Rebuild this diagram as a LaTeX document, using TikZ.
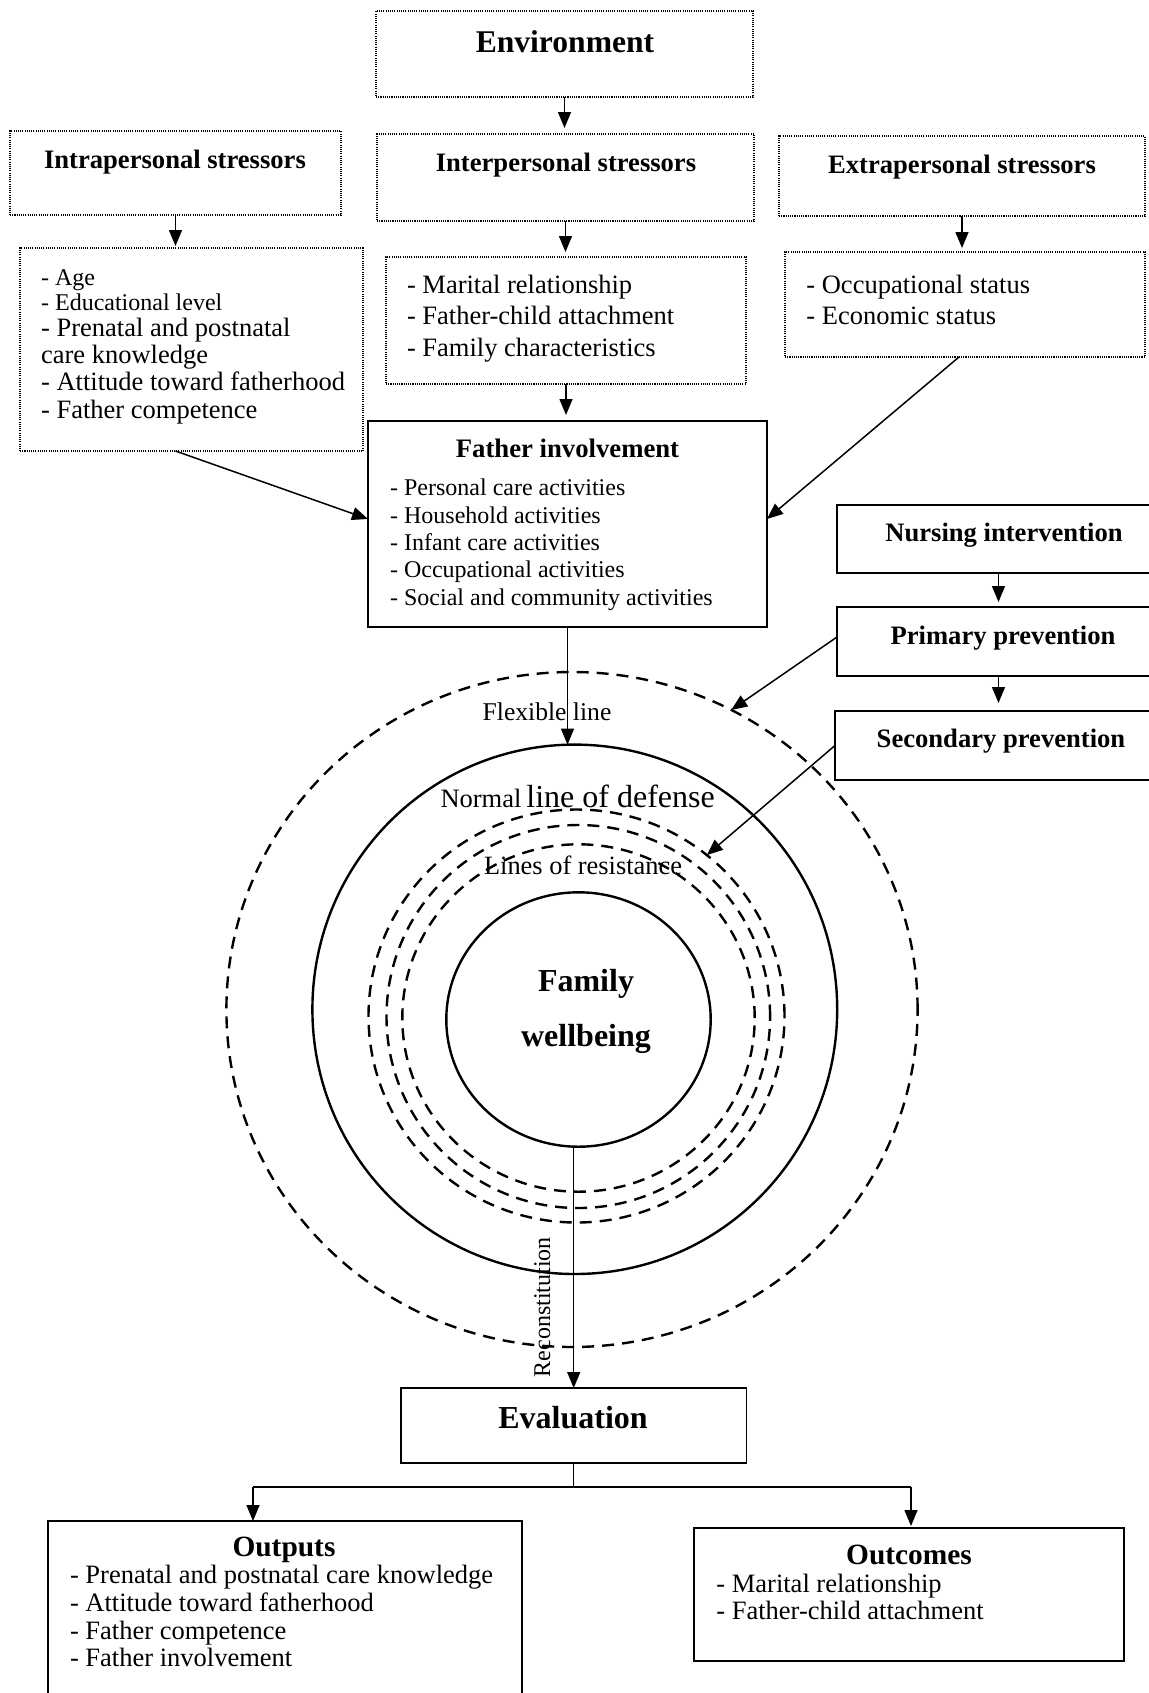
\documentclass[tikz,border=0pt]{standalone}
\usepackage{fontspec}
\setmainfont{Liberation Serif}
\usetikzlibrary{arrows.meta,shapes.geometric,calc}
\newcommand\setfs[1]{\fontsize{#1}{#1}\selectfont}

\begin{document}
\begin{tikzpicture}[x=0.5pt,y=-0.5pt,
  box/.style={draw, line width=0.95pt, inner sep=0pt, outer sep=0pt},
  dotbox/.style={draw, line width=0.55pt, dash pattern=on 0.55pt off 0.55pt, inner sep=0pt, outer sep=0pt},
  ring/.style={draw, ellipse, line width=1.2pt, inner sep=0pt, outer sep=0pt},
  dring/.style={ring, dash pattern=on 6pt off 4pt},
  arr/.style={line width=0.75pt, -{Triangle[length=8pt,width=6.5pt]}},
  conn/.style={line width=0.75pt},
  txt/.style={inner sep=0pt, anchor=base},
  ltxt/.style={inner sep=0pt, anchor=base west},
  head/.style={txt, font=\bfseries\setfs{13.3}},
  item/.style={ltxt, font=\setfs{13.25}},
  smallitem/.style={ltxt, font=\setfs{12}}
]
\useasboundingbox (0,0) rectangle (1149,1693);
\fill[white] (0,0) rectangle (1149,1693);

% ---- boxes ----
\node[dotbox, minimum width=188.5pt, minimum height=43pt] (env) at (564.5,54) {};
\node[dotbox, minimum width=165.5pt, minimum height=42pt] (intra) at (175.5,173) {};
\node[dotbox, minimum width=188.5pt, minimum height=43.5pt] (inter) at (565.5,177.5) {};
\node[dotbox, minimum width=183pt, minimum height=40pt] (extra) at (962,176) {};
\node[dotbox, minimum width=171.5pt, minimum height=101.5pt] (intraL) at (191.5,349.5) {};
\node[dotbox, minimum width=180pt, minimum height=63.5pt] (interL) at (566,320.5) {};
\node[dotbox, minimum width=180pt, minimum height=52.5pt] (extraL) at (965,304.5) {};
\node[box, minimum width=199.5pt, minimum height=103pt] (FI) at (567.5,524) {};
\node[box, minimum width=161.5pt, minimum height=34pt] (nurse) at (998.5,539) {};
\node[box, minimum width=161.5pt, minimum height=34.5pt] (primary) at (998.5,641.5) {};
\node[box, minimum width=162.5pt, minimum height=34.5pt] (secondary) at (997.5,745.5) {};
\node[box, minimum width=172.75pt, minimum height=37.5pt] (eval) at (573.7,1425.5) {};
\node[box, minimum width=236.8pt, minimum height=89.5pt] (outputs) at (284.8,1610.5) {};
\node[box, minimum width=214.75pt, minimum height=66.5pt] (outcomes) at (909,1594.5) {};

% ---- defence rings ----
\node[dring, minimum width=345.6pt, minimum height=337.5pt] (outer) at (572,1009.5) {};
\node[ring, minimum width=262.4pt, minimum height=264.7pt] (normal) at (574.8,1009.3) {};
\node[dring, minimum width=208pt, minimum height=206.5pt] (res1) at (576.5,1016) {};
\node[dring, minimum width=191.8pt, minimum height=191.5pt] (res2) at (578.3,1016.5) {};
\node[dring, minimum width=176.2pt, minimum height=173.7pt] (res3) at (578.5,1018) {};
\node[ring, minimum width=132.2pt, minimum height=127.2pt] (family) at (578.5,1019.5) {};

% ---- texts ----
\node[txt, font=\bfseries\setfs{15.8}] (envT) at (565,52) {Environment};
\node[head] (intraT) at (175,168) {Intrapersonal stressors};
\node[head] (interT) at (566,171) {Interpersonal stressors};
\node[head] (extraT) at (962,173) {Extrapersonal stressors};

\node[smallitem] (i1) at (40.7,285) {- Age};
\node[smallitem] (i2) at (40.7,310) {- Educational level};
\node[item] (i3) at (40.7,336) {- Prenatal and postnatal};
\node[item] (i4) at (40.7,363) {care knowledge};
\node[item] (i5) at (40.7,390) {- Attitude toward fatherhood};
\node[item] (i6) at (40.7,418) {- Father competence};

\node[item] (p1) at (406.6,293) {- Marital relationship};
\node[item] (p2) at (406.6,324.5) {- Father-child attachment};
\node[item] (p3) at (406.6,356) {- Family characteristics};

\node[item] (e1) at (806,293) {- Occupational status};
\node[item] (e2) at (806,324) {- Economic status};

\node[txt, font=\bfseries\setfs{13.35}] (FIT) at (567.5,457) {Father involvement};
\node[smallitem] (f1) at (389.7,495) {- Personal care activities};
\node[smallitem] (f2) at (389.7,523) {- Household activities};
\node[smallitem] (f3) at (389.7,550) {- Infant care activities};
\node[smallitem] (f4) at (389.7,577.7) {- Occupational activities};
\node[smallitem] (f5) at (389.7,605) {- Social and community activities};

\node[head] (nurseT) at (1004,541) {Nursing intervention};
\node[head] (primaryT) at (1003,644) {Primary prevention};
\node[head] (secondaryT) at (1001,747) {Secondary prevention};

\node[txt, font=\setfs{12.8}] (flexT) at (547,720) {Flexible line};
\node[ltxt] (normalT) at (440.1,807) {{\setfs{13.25}Normal} {\setfs{16}line of defense}};
\node[txt, font=\setfs{13.2}] (resT) at (583,874) {Lines of resistance};
\node[txt, font=\bfseries\setfs{16}] (famT1) at (586,991.5) {Family};
\node[txt, font=\bfseries\setfs{16}] (famT2) at (586,1046) {wellbeing};
\node[txt, font=\setfs{12}, rotate=90] (reconT) at (550,1307) {Reconstitution};

\node[txt, font=\bfseries\setfs{16}] (evalT) at (573,1428) {Evaluation};
\node[txt, font=\bfseries\setfs{14.7}] (outputsT) at (284,1556) {Outputs};
\node[item] (o1) at (69.6,1583) {- Prenatal and postnatal care knowledge};
\node[item] (o2) at (69.6,1611.7) {- Attitude toward fatherhood};
\node[item] (o3) at (69.6,1639) {- Father competence};
\node[item] (o4) at (69.6,1666.7) {- Father involvement};
\node[txt, font=\bfseries\setfs{14.7}] (outcomesT) at (909,1564) {Outcomes};
\node[item] (c1) at (716,1592) {- Marital relationship};
\node[item] (c2) at (716,1619) {- Father-child attachment};

% ---- connectors ----
\draw[arr, shorten >=3pt] (env.south) -- (env.south |- inter.north);
\draw[arr, shorten >=1pt] (intra.south) -- (intra.south |- intraL.north);
\draw[arr, shorten >=2.5pt] (inter.south) -- (inter.south |- interL.north);
\draw[arr, shorten >=2pt] (extra.south) -- (extra.south |- extraL.north);
\draw[arr, shorten >=3pt] (interL.south) -- (interL.south |- FI.north);
\draw[arr] (intraL.south -| intra.south) -- ($(FI.west)+(0,-5)$);
\draw[arr] ($(extraL.south)+(-6,0)$) -- ($(FI.east)+(0,-5)$);
\draw[arr, shorten >=2.5pt] (nurse.south) -- (nurse.south |- primary.north);
\draw[arr, shorten >=4pt] (primary.south) -- (primary.south |- secondary.north);
\draw[arr] ($(primary.west)+(0,-4.5)$) -- (outer.62);
\draw[arr] (secondary.west) -- (res1.51);
\draw[arr] (FI.south) -- (FI.south |- normal.north);
\draw[arr] (eval.north |- family.south) -- (eval.north);

\coordinate (jl) at (253,1487);
\coordinate (jr) at (911,1487);
\draw[conn] (eval.south) -- (eval.south |- jl);
\draw[conn] (jl) -- (jr);
\draw[arr] (jl) -- (jl |- outputs.north);
\draw[arr, shorten >=1pt] (jr) -- (jr |- outcomes.north);
\end{tikzpicture}
\end{document}
